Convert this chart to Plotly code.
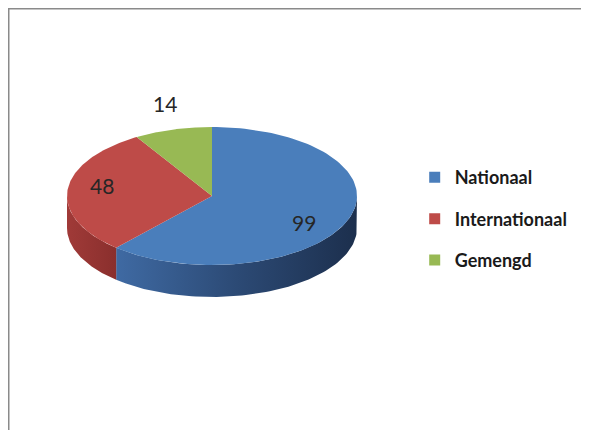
import numpy as np
import plotly.graph_objects as go

# ---- data ----
categories = ["Nationaal", "Internationaal", "Gemengd"]
values = [99, 48, 14]
labels = ["99", "48", "14"]

# ---- style ----
top_colors = ["#4a7ebb", "#be4b48", "#98b954"]
side_scales = [
    [[0, "#3f6aa3"], [0.5, "#2c4a75"], [1, "#1c2f4d"]],
    [[0, "#a03a38"], [1, "#8a2f2d"]],
    [[0, "#7a9a40"], [1, "#637f33"]],
]
label_factor = [0.68, 0.76, 1.30]
label_dx = [0, 0, 4]
label_dy = [10, -6, -6]

PAGE_W, PAGE_H = 589, 430
OFF = 8  # page body margin
W, H = PAGE_W - OFF, PAGE_H - OFF
cx, cy, a, b, depth = 212, 196, 145, 69, 32

fig = go.Figure()

total = sum(values)
start = 90.0
angles = []
for v in values:
    sweep = v / total * 360.0
    angles.append((start, start - sweep))
    start -= sweep


def pt(theta_deg, dz=0.0, f=1.0):
    t = np.radians(theta_deg)
    return cx + f * a * np.cos(t), cy - f * b * np.sin(t) + dz


# side walls (front half: parametric angles between 180 and 360)
for i, (t0, t1) in enumerate(angles):
    lo, hi = t1, t0
    segs = []
    for k in (-360, 0, 360):
        s0 = max(lo + k, 180)
        s1 = min(hi + k, 360)
        if s1 > s0:
            segs.append((s0, s1))
    for s0, s1 in segs:
        th = np.linspace(s0, s1, 80)
        xt, yt = pt(th)
        xb, yb = pt(th[::-1], depth)
        xs = np.concatenate([xt, xb, xt[:1]])
        ys = np.concatenate([yt, yb, yt[:1]])
        fig.add_trace(go.Scatter(
            x=xs, y=ys, mode="lines", fill="toself",
            line=dict(width=0, color=top_colors[i]),
            fillgradient=dict(type="horizontal", colorscale=side_scales[i]),
            hoverinfo="skip", showlegend=False))

# top faces
for i, (t0, t1) in enumerate(angles):
    th = np.linspace(t0, t1, 120)
    xa, ya = pt(th)
    xs = np.concatenate([[cx], xa, [cx]])
    ys = np.concatenate([[cy], ya, [cy]])
    fig.add_trace(go.Scatter(
        x=xs, y=ys, mode="lines", fill="toself",
        line=dict(width=0, color=top_colors[i]),
        fillcolor=top_colors[i], hoverinfo="skip", showlegend=False))

# data labels
for i, (t0, t1) in enumerate(angles):
    mid = (t0 + t1) / 2
    x, y = pt(mid, 0, label_factor[i])
    fig.add_annotation(x=x + label_dx[i], y=y + label_dy[i], text=labels[i], showarrow=False,
                       font=dict(family="Lato, Open Sans, sans-serif", size=21, color="#262626"),
                       xref="x", yref="y")

# legend entries
for i, name in enumerate(categories):
    fig.add_trace(go.Scatter(
        x=[None], y=[None], mode="markers", name=name, legendgroup=name,
        marker=dict(symbol="square", size=11, color=top_colors[i])))

# frame
fig.add_shape(type="line", x0=0, x1=1, y0=1, y1=1, xref="paper", yref="paper",
              line=dict(color="#8a8a8a", width=3))
fig.add_shape(type="line", x0=0, x1=0, y0=0, y1=1, xref="paper", yref="paper",
              line=dict(color="#8a8a8a", width=3))

fig.update_layout(
    width=W, height=H,
    margin=dict(l=0, r=0, t=0, b=0),
    paper_bgcolor="white", plot_bgcolor="white",
    xaxis=dict(range=[OFF, PAGE_W], visible=False, fixedrange=True),
    yaxis=dict(range=[PAGE_H, OFF], visible=False, fixedrange=True),
    showlegend=True,
    legend=dict(x=0.70, y=0.642, xanchor="left", yanchor="top",
                font=dict(family="Lato, Open Sans, sans-serif", size=18, color="#1a1a1a",
                          weight="bold"),
                tracegroupgap=15, itemwidth=30, bgcolor="rgba(0,0,0,0)"),
)

fig.write_html("out.html")
